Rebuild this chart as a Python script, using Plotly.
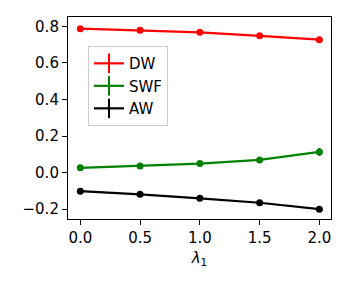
import plotly.graph_objects as go

lambdas = [0.0, 0.5, 1.0, 1.5, 2.0]
dw = [0.787, 0.779, 0.767, 0.748, 0.727]
dw_err = [0.004, 0.004, 0.004, 0.004, 0.005]
swf = [0.026, 0.036, 0.049, 0.069, 0.113]
swf_err = [0.003, 0.003, 0.004, 0.006, 0.022]
aw = [-0.102, -0.119, -0.141, -0.165, -0.200]
aw_err = [0.003, 0.003, 0.003, 0.004, 0.005]

series = [("DW", dw, dw_err, "#ff0000"),
          ("SWF", swf, swf_err, "#008000"),
          ("AW", aw, aw_err, "#000000")]

font = "DejaVu Sans"
fig = go.Figure()
for name, vals, errs, col in series:
    fig.add_trace(go.Scatter(
        x=lambdas, y=vals, mode="lines+markers", name=name, showlegend=False,
        line=dict(color=col, width=2.2),
        marker=dict(color=col, size=7),
        error_y=dict(type="data", array=errs, color=col, thickness=2, width=0),
    ))
for name, vals, errs, col in series:
    fig.add_trace(go.Scatter(
        x=[None], y=[None], mode="lines+markers", name=name, showlegend=True,
        line=dict(color=col, width=2.2),
        marker=dict(color=col, size=14, symbol="line-ns", line=dict(color=col, width=2)),
    ))

axis_common = dict(
    showline=True, linecolor="black", linewidth=1.1, mirror=True,
    ticks="outside", ticklen=5, tickwidth=1.1, tickcolor="black",
    showgrid=False, zeroline=False,
    tickfont=dict(family=font, size=15, color="black"),
)
fig.update_xaxes(range=[-0.103, 2.097], tickvals=[0, 0.5, 1.0, 1.5, 2.0],
                 ticktext=["0.0", "0.5", "1.0", "1.5", "2.0"],
                 title=dict(text="<i>λ</i><sub>1</sub>", font=dict(family=font, size=15, color="black"), standoff=6),
                 **axis_common)
fig.update_yaxes(range=[-0.254, 0.851], tickvals=[-0.2, 0.0, 0.2, 0.4, 0.6, 0.8],
                 ticktext=["−0.2", "0.0", "0.2", "0.4", "0.6", "0.8"],
                 **axis_common)
fig.update_layout(
    width=341, height=283,
    margin=dict(l=60, r=18, t=9, b=72),
    paper_bgcolor="white", plot_bgcolor="white",
    font=dict(family=font, size=15, color="black"),
    legend=dict(x=0.076, y=0.856, xanchor="left", yanchor="top",
                bgcolor="rgba(255,255,255,0.8)", bordercolor="#cccccc", borderwidth=1,
                font=dict(family=font, size=15, color="black"), itemwidth=30),
)
fig.write_html("out.html")
